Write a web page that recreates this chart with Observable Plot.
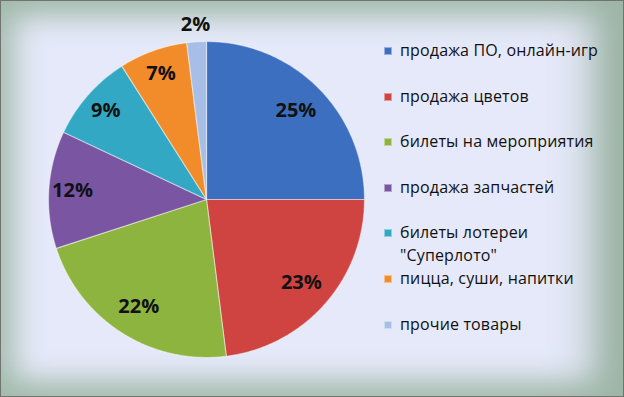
<!DOCTYPE html>
<html><head><meta charset="utf-8">
<script src="https://cdn.jsdelivr.net/npm/d3@7"></script>
<script src="https://cdn.jsdelivr.net/npm/@observablehq/plot@0.6"></script>
<style>
body{margin:0;background:#fff;}
#wrap{position:relative;width:624px;height:397px;overflow:hidden;background:#e5e9f9;
  box-shadow:inset 0 0 0 1px #6f7471, inset -40px 0 46px -12px #9db4a6, inset 0 0 30px 14px #a3bbac;
  font-family:"Open Sans",sans-serif;}
#chart{position:absolute;left:0;top:0;}
#legend{position:absolute;left:384px;top:39px;}
.row{height:45.6px;display:flex;align-items:flex-start;}
.sw{width:8px;height:8px;margin-top:8px;margin-right:8px;flex:none;box-shadow:inset 0 0 0 1px rgba(255,255,255,.45);}
.lab{font-size:16px;line-height:23px;color:#111;white-space:pre;letter-spacing:0.15px;}
</style></head>
<body>
<div id="wrap"><div id="chart"></div><div id="legend"></div></div>
<script>
const categories = ["продажа ПО, онлайн-игр","продажа цветов","билеты на мероприятия","продажа запчастей","билеты лотереи\n\"Суперлото\"","пицца, суши, напитки","прочие товары"];
const shares = [25, 23, 22, 12, 9, 7, 2];
const colors = ["#3c6fc0","#cf4340","#8db43e","#7a55a2","#32a8c4","#f28b2a","#a7bee6"];

const arcs = d3.pie().sort(null).value(d => d)(shares);
const points = [];
arcs.forEach((a, i) => {
  points.push({cat: categories[i], x: 0, y: 0});
  const n = Math.max(4, Math.ceil((a.endAngle - a.startAngle) / 0.01));
  for (let k = 0; k <= n; k++) {
    const t = a.startAngle + (a.endAngle - a.startAngle) * k / n;
    points.push({cat: categories[i], x: Math.sin(t), y: Math.cos(t)});
  }
});
const labels = arcs.map((a, i) => {
  const m = (a.startAngle + a.endAngle) / 2;
  const r = shares[i] < 5 ? 1.11 : shares[i] < 15 ? 0.85 : 0.8;
  return {x: r * Math.sin(m), y: r * Math.cos(m), text: shares[i] + "%"};
});

const plot = Plot.plot({
  width: 624, height: 397,
  marginLeft: 48, marginRight: 260, marginTop: 41, marginBottom: 40,
  x: {domain: [-1, 1], axis: null},
  y: {domain: [-1, 1], axis: null},
  color: {domain: categories, range: colors},
  style: {background: "transparent", overflow: "visible"},
  marks: [
    Plot.line(points, {x: "x", y: "y", z: "cat", fill: "cat", stroke: "#ffffff", strokeOpacity: 0.45, strokeWidth: 1.2, curve: "linear-closed"}),
    Plot.text(labels, {x: "x", y: "y", text: "text", fontSize: 20, fontWeight: "bold", fill: "#111", fontFamily: "Open Sans"})
  ]
});
document.getElementById("chart").appendChild(plot);

const color = plot.scale("color");
const leg = document.getElementById("legend");
categories.forEach(c => {
  const row = document.createElement("div"); row.className = "row";
  const sw = document.createElement("div"); sw.className = "sw"; sw.style.background = color.apply(c);
  const lab = document.createElement("div"); lab.className = "lab"; lab.textContent = c;
  row.appendChild(sw); row.appendChild(lab); leg.appendChild(row);
});
</script>
</body></html>
